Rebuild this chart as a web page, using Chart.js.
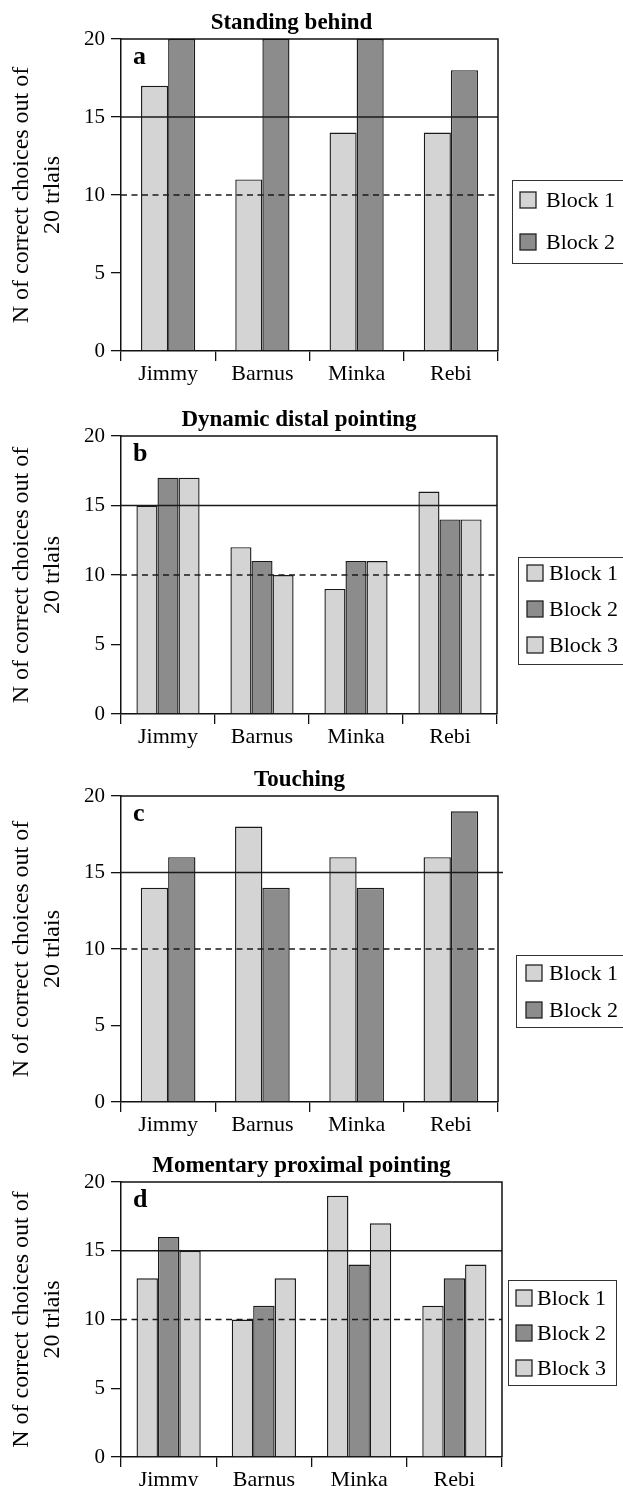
<!DOCTYPE html>
<html>
<head>
<meta charset="utf-8">
<script src="https://cdn.jsdelivr.net/npm/chart.js@4.4.1/dist/chart.umd.min.js"></script>
<style>
    body { margin: 0; background: #fff; width: 623px; height: 1486px; position: relative; overflow: hidden; }
    canvas { position: absolute; left: 0; }
</style>
</head>
<body>
<canvas id="chart_a"></canvas>
<canvas id="chart_b"></canvas>
<canvas id="chart_c"></canvas>
<canvas id="chart_d"></canvas>
<script>
// data
const animals = ['Jimmy', 'Barnus', 'Minka', 'Rebi'];
const blockLabels = ['Block 1', 'Block 2', 'Block 3'];
const panelTitles = ['Standing behind', 'Dynamic distal pointing', 'Touching', 'Momentary proximal pointing'];
const panelLetters = ['a', 'b', 'c', 'd'];
const yTicks = [0, 5, 10, 15, 20];
const criterionLine = 15;
const chanceLine = 10;
const yAxisTitle = ['N of correct choices out of', '20 trlais'];

const standingBlock1 = [17, 11, 14, 14];
const standingBlock2 = [20, 20, 20, 18];
const distalBlock1 = [15, 12, 9, 16];
const distalBlock2 = [17, 11, 11, 14];
const distalBlock3 = [17, 10, 11, 14];
const touchingBlock1 = [14, 18, 16, 16];
const touchingBlock2 = [16, 14, 14, 19];
const proximalBlock1 = [13, 10, 19, 11];
const proximalBlock2 = [16, 11, 14, 13];
const proximalBlock3 = [15, 13, 17, 14];

const LIGHT = '#d4d4d4';
const DARK = '#8c8c8c';
const SERIF = "'Liberation Serif', 'Times New Roman', serif";

// page layout of each panel (absolute page coordinates)
const panels = [
    { id: 'chart_a', top: 0, height: 395, chartTop: 39, chartBottom: 351, right: 498, cp: 0.575, titleShift: -18,
      series: [standingBlock1, standingBlock2], colors: [LIGHT, DARK],
      legend: { left: 512, top: 180, width: 116, height: 83, firstRow: 200, step: 42, swatchX: 520, textX: 546 } },
    { id: 'chart_b', top: 395, height: 360, chartTop: 436, chartBottom: 714, right: 497, cp: 0.672, titleShift: -10,
      series: [distalBlock1, distalBlock2, distalBlock3], colors: [LIGHT, DARK, LIGHT],
      legend: { left: 518, top: 557, width: 110, height: 107, firstRow: 573, step: 36, swatchX: 527, textX: 549 } },
    { id: 'chart_c', top: 755, height: 386, chartTop: 796, chartBottom: 1102, right: 498, cp: 0.58, titleShift: -10,
      series: [touchingBlock1, touchingBlock2], colors: [LIGHT, DARK],
      legend: { left: 516, top: 955, width: 112, height: 72, firstRow: 973, step: 37, swatchX: 526, textX: 549 } },
    { id: 'chart_d', top: 1141, height: 345, chartTop: 1182, chartBottom: 1457, right: 502, cp: 0.674, titleShift: -10,
      series: [proximalBlock1, proximalBlock2, proximalBlock3], colors: [LIGHT, DARK, LIGHT],
      legend: { left: 508, top: 1280, width: 108, height: 105, firstRow: 1298, step: 35, swatchX: 516, textX: 537 } }
];

const panelDecor = {
    id: 'panelDecor',
    afterDatasetsDraw(chart, args, opts) {
        const ctx = chart.ctx;
        const area = chart.chartArea;
        const y = chart.scales.y;
        const off = opts.offsetTop;
        ctx.save();

        // criterion (solid) and chance (dashed) lines
        ctx.strokeStyle = '#1a1a1a';
        ctx.lineWidth = 1.5;
        ctx.beginPath();
        ctx.moveTo(area.left, y.getPixelForValue(criterionLine));
        ctx.lineTo(area.right + opts.lineOver, y.getPixelForValue(criterionLine));
        ctx.stroke();
        ctx.setLineDash([6, 4.5]);
        ctx.beginPath();
        ctx.moveTo(area.left, y.getPixelForValue(chanceLine));
        ctx.lineTo(area.right, y.getPixelForValue(chanceLine));
        ctx.stroke();
        ctx.setLineDash([]);

        // frame top / right
        ctx.lineWidth = 1.5;
        ctx.strokeStyle = '#111';
        ctx.beginPath();
        ctx.moveTo(area.left, area.top);
        ctx.lineTo(area.right, area.top);
        ctx.lineTo(area.right, area.bottom);
        ctx.stroke();

        // title and panel letter
        ctx.fillStyle = '#000';
        ctx.textBaseline = 'middle';
        ctx.textAlign = 'center';
        ctx.font = 'bold 23px ' + SERIF;
        ctx.fillText(opts.title, (area.left + area.right) / 2 + opts.titleShift, area.top - 16);
        ctx.textAlign = 'left';
        ctx.font = 'bold 26px ' + SERIF;
        ctx.fillText(opts.letter, 133, area.top + 18);

        // legend box
        const lg = opts.legend;
        ctx.lineWidth = 1;
        ctx.strokeStyle = '#333';
        ctx.strokeRect(lg.left + 0.5, lg.top - off + 0.5, lg.width, lg.height);
        ctx.font = '22px ' + SERIF;
        chart.data.datasets.forEach((ds, i) => {
            const cy = lg.firstRow - off + i * lg.step;
            ctx.fillStyle = ds.backgroundColor;
            ctx.fillRect(lg.swatchX, cy - 8, 16, 16);
            ctx.strokeStyle = '#222';
            ctx.lineWidth = 1.3;
            ctx.strokeRect(lg.swatchX, cy - 8, 16, 16);
            ctx.fillStyle = '#000';
            ctx.fillText(ds.label, lg.textX, cy + 1);
        });
        ctx.restore();
    }
};

panels.forEach((p, n) => {
    const canvas = document.getElementById(p.id);
    canvas.width = 623;
    canvas.height = p.height;
    canvas.style.top = p.top + 'px';
    const localBottom = p.chartBottom - p.top;

    new Chart(canvas, {
        type: 'bar',
        data: {
            labels: animals,
            datasets: p.series.map((vals, i) => ({
                label: blockLabels[i],
                data: vals,
                backgroundColor: p.colors[i],
                borderColor: '#1a1a1a',
                borderWidth: 1.4,
                barPercentage: 1,
                categoryPercentage: p.cp
            }))
        },
        options: {
            responsive: false,
            animation: false,
            events: [],
            layout: {
                padding: { top: p.chartTop - p.top, right: 623 - p.right, bottom: 0, left: 0 }
            },
            scales: {
                x: {
                    afterFit: scale => { scale.height = p.height - localBottom; },
                    grid: { offset: true, drawOnChartArea: false, drawTicks: true, tickLength: 10, color: '#111', lineWidth: 1.3 },
                    border: { display: true, color: '#111', width: 1.5 },
                    ticks: { color: '#000', padding: 0, font: { family: SERIF, size: 22 } }
                },
                y: {
                    min: 0,
                    max: 20,
                    afterFit: scale => { scale.width = 121; },
                    afterBuildTicks: scale => { scale.ticks = yTicks.map(v => ({ value: v })); },
                    grid: { drawOnChartArea: false, drawTicks: true, tickLength: 10, color: '#111', lineWidth: 1.3 },
                    border: { display: true, color: '#111', width: 1.5 },
                    ticks: { color: '#000', padding: 6, font: { family: SERIF, size: 21 } },
                    title: {
                        display: true,
                        text: yAxisTitle,
                        color: '#000',
                        padding: { top: 6, bottom: 0 },
                        font: { family: SERIF, size: 24, lineHeight: 1.3 }
                    }
                }
            },
            plugins: {
                legend: { display: false },
                tooltip: { enabled: false },
                panelDecor: {
                    title: panelTitles[n],
                    letter: panelLetters[n],
                    legend: p.legend,
                    offsetTop: p.top,
                    titleShift: p.titleShift,
                    lineOver: n === 2 ? 5 : 0
                }
            }
        },
        plugins: [panelDecor]
    });
});
</script>
</body>
</html>
